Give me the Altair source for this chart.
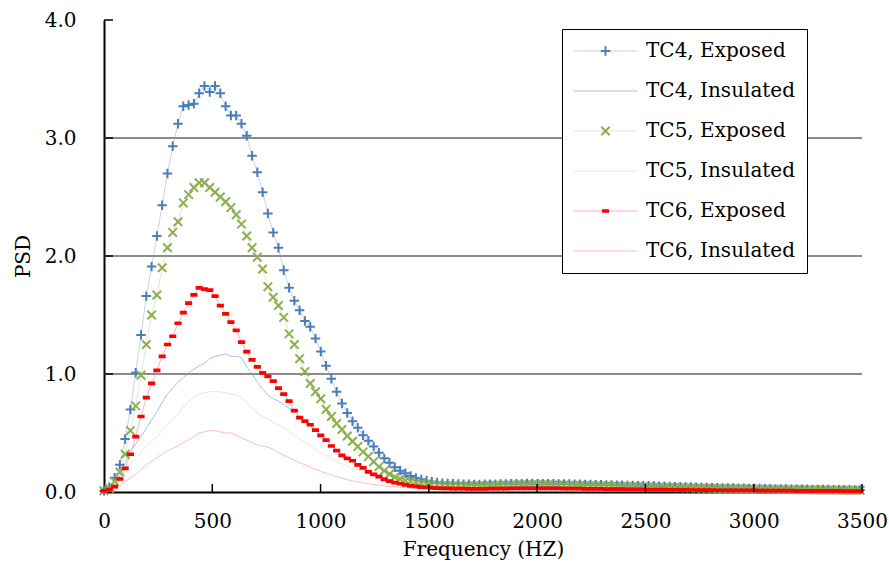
import altair as alt
import pandas as pd

# ---------------- data ----------------
FREQ_STEP = 24.414
N = 144
FREQ = [round(i * FREQ_STEP, 2) for i in range(N)]

SERIES = ["TC4, Exposed", "TC4, Insulated", "TC5, Exposed",
          "TC5, Insulated", "TC6, Exposed", "TC6, Insulated"]

TC4_EXPOSED = [
    0.01, 0.04, 0.12, 0.23, 0.45, 0.70, 1.01, 1.33, 1.66, 1.91,
    2.17, 2.43, 2.70, 2.93, 3.12, 3.27, 3.28, 3.29, 3.38, 3.44,
    3.39, 3.44, 3.38, 3.27, 3.19, 3.19, 3.12, 3.02, 2.85, 2.71,
    2.54, 2.36, 2.20, 2.07, 1.88, 1.73, 1.62, 1.54, 1.45, 1.40,
    1.30, 1.19, 1.07, 0.96, 0.85, 0.75, 0.67, 0.60, 0.545, 0.48,
    0.435, 0.385, 0.333, 0.285, 0.248, 0.21, 0.18, 0.158, 0.135, 0.118,
    0.107, 0.095, 0.087, 0.080, 0.075, 0.072, 0.070, 0.068, 0.066, 0.065,
    0.064, 0.064, 0.065, 0.066, 0.066, 0.067, 0.068, 0.069, 0.070, 0.071,
    0.072, 0.072, 0.071, 0.071, 0.070, 0.069, 0.068, 0.068, 0.067, 0.066,
    0.065, 0.064, 0.063, 0.062, 0.061, 0.060, 0.059, 0.058, 0.057, 0.056,
    0.055, 0.054, 0.053, 0.052, 0.050, 0.049, 0.048, 0.047, 0.045, 0.044,
    0.043, 0.042, 0.040, 0.039, 0.038, 0.037, 0.036, 0.035, 0.034, 0.033,
    0.032, 0.031, 0.030, 0.030, 0.029, 0.028, 0.027, 0.026, 0.026, 0.025,
    0.024, 0.024, 0.023, 0.023, 0.022, 0.022, 0.021, 0.021, 0.020, 0.020,
    0.019, 0.019, 0.018, 0.018,
]

TC4_INSULATED = [
    0.00, 0.02, 0.06, 0.14, 0.25, 0.34, 0.41, 0.47, 0.54, 0.61,
    0.68, 0.76, 0.83, 0.88, 0.93, 0.97, 1.01, 1.04, 1.07, 1.09,
    1.13, 1.15, 1.16, 1.17, 1.15, 1.15, 1.14, 1.06, 1.00, 0.93,
    0.87, 0.82, 0.79, 0.77, 0.74, 0.71, 0.68, 0.64, 0.60, 0.56,
    0.52, 0.48, 0.44, 0.40, 0.36, 0.32, 0.29, 0.26, 0.23, 0.20,
    0.18, 0.16, 0.14, 0.12, 0.105, 0.092, 0.080, 0.070, 0.062, 0.056,
    0.050, 0.046, 0.043, 0.041, 0.039, 0.038, 0.037, 0.037, 0.037, 0.037,
    0.038, 0.038, 0.039, 0.040, 0.041, 0.042, 0.043, 0.044, 0.045, 0.045,
    0.046, 0.046, 0.046, 0.045, 0.045, 0.044, 0.043, 0.042, 0.041, 0.040,
    0.039, 0.038, 0.037, 0.036, 0.035, 0.034, 0.033, 0.032, 0.031, 0.030,
    0.029, 0.028, 0.027, 0.026, 0.026, 0.025, 0.024, 0.023, 0.023, 0.022,
    0.021, 0.021, 0.020, 0.020, 0.019, 0.019, 0.018, 0.018, 0.017, 0.017,
    0.016, 0.016, 0.016, 0.015, 0.015, 0.015, 0.014, 0.014, 0.014, 0.013,
    0.013, 0.013, 0.013, 0.012, 0.012, 0.012, 0.012, 0.011, 0.011, 0.011,
    0.011, 0.010, 0.010, 0.010,
]

TC5_EXPOSED = [
    0.01, 0.03, 0.09, 0.17, 0.32, 0.52, 0.73, 0.99, 1.25, 1.50,
    1.67, 1.90, 2.07, 2.20, 2.29, 2.45, 2.52, 2.58, 2.62, 2.62,
    2.58, 2.54, 2.50, 2.46, 2.41, 2.35, 2.27, 2.17, 2.07, 1.99,
    1.89, 1.74, 1.65, 1.58, 1.48, 1.34, 1.25, 1.13, 1.02, 0.92,
    0.85, 0.79, 0.70, 0.64, 0.58, 0.53, 0.475, 0.43, 0.385, 0.34,
    0.30, 0.257, 0.215, 0.18, 0.153, 0.125, 0.110, 0.095, 0.088, 0.080,
    0.072, 0.066, 0.062, 0.058, 0.056, 0.054, 0.053, 0.052, 0.052, 0.052,
    0.053, 0.053, 0.054, 0.055, 0.056, 0.057, 0.058, 0.059, 0.060, 0.061,
    0.061, 0.062, 0.062, 0.061, 0.061, 0.060, 0.059, 0.058, 0.057, 0.056,
    0.055, 0.054, 0.053, 0.052, 0.051, 0.050, 0.049, 0.048, 0.047, 0.046,
    0.045, 0.044, 0.043, 0.042, 0.041, 0.040, 0.039, 0.038, 0.037, 0.036,
    0.035, 0.034, 0.033, 0.032, 0.031, 0.030, 0.029, 0.028, 0.028, 0.027,
    0.026, 0.025, 0.025, 0.024, 0.023, 0.023, 0.022, 0.021, 0.021, 0.020,
    0.020, 0.019, 0.019, 0.018, 0.018, 0.017, 0.017, 0.016, 0.016, 0.016,
    0.015, 0.015, 0.015, 0.014,
]

TC5_INSULATED = [
    0.00, 0.01, 0.04, 0.11, 0.19, 0.24, 0.29, 0.34, 0.39, 0.43,
    0.47, 0.52, 0.57, 0.61, 0.66, 0.72, 0.77, 0.80, 0.83, 0.84,
    0.85, 0.85, 0.85, 0.84, 0.83, 0.82, 0.80, 0.76, 0.71, 0.67,
    0.64, 0.62, 0.59, 0.57, 0.54, 0.51, 0.48, 0.45, 0.42, 0.39,
    0.36, 0.33, 0.31, 0.28, 0.26, 0.24, 0.22, 0.20, 0.19, 0.17,
    0.155, 0.14, 0.13, 0.115, 0.105, 0.095, 0.085, 0.075, 0.067, 0.060,
    0.055, 0.050, 0.046, 0.043, 0.041, 0.039, 0.038, 0.037, 0.037, 0.037,
    0.037, 0.038, 0.038, 0.039, 0.040, 0.041, 0.042, 0.042, 0.043, 0.043,
    0.044, 0.044, 0.043, 0.043, 0.042, 0.042, 0.041, 0.040, 0.039, 0.038,
    0.037, 0.036, 0.035, 0.034, 0.033, 0.032, 0.031, 0.030, 0.029, 0.028,
    0.027, 0.026, 0.026, 0.025, 0.024, 0.023, 0.023, 0.022, 0.021, 0.021,
    0.020, 0.019, 0.019, 0.018, 0.018, 0.017, 0.017, 0.016, 0.016, 0.015,
    0.015, 0.015, 0.014, 0.014, 0.014, 0.013, 0.013, 0.013, 0.012, 0.012,
    0.012, 0.012, 0.011, 0.011, 0.011, 0.011, 0.010, 0.010, 0.010, 0.010,
    0.010, 0.009, 0.009, 0.009,
]

TC6_EXPOSED = [
    0.01, 0.02, 0.045, 0.11, 0.20, 0.32, 0.47, 0.64, 0.80, 0.92,
    1.03, 1.15, 1.25, 1.32, 1.43, 1.52, 1.60, 1.67, 1.73, 1.72,
    1.71, 1.66, 1.58, 1.51, 1.44, 1.37, 1.27, 1.19, 1.12, 1.06,
    1.01, 0.98, 0.94, 0.88, 0.83, 0.77, 0.69, 0.63, 0.60, 0.57,
    0.525, 0.48, 0.44, 0.39, 0.35, 0.31, 0.285, 0.265, 0.23, 0.205,
    0.17, 0.15, 0.13, 0.107, 0.093, 0.079, 0.070, 0.060, 0.052, 0.047,
    0.042, 0.038, 0.035, 0.033, 0.031, 0.030, 0.029, 0.028, 0.028, 0.027,
    0.027, 0.027, 0.027, 0.028, 0.028, 0.029, 0.029, 0.030, 0.030, 0.031,
    0.031, 0.031, 0.031, 0.031, 0.030, 0.030, 0.030, 0.029, 0.029, 0.028,
    0.028, 0.027, 0.027, 0.026, 0.026, 0.025, 0.025, 0.024, 0.024, 0.023,
    0.023, 0.022, 0.022, 0.021, 0.021, 0.020, 0.020, 0.019, 0.019, 0.018,
    0.018, 0.017, 0.017, 0.016, 0.016, 0.016, 0.015, 0.015, 0.014, 0.014,
    0.014, 0.013, 0.013, 0.013, 0.012, 0.012, 0.012, 0.011, 0.011, 0.011,
    0.011, 0.010, 0.010, 0.010, 0.010, 0.009, 0.009, 0.009, 0.009, 0.009,
    0.008, 0.008, 0.008, 0.008,
]

TC6_INSULATED = [
    0.00, 0.005, 0.02, 0.05, 0.09, 0.12, 0.15, 0.19, 0.23, 0.26,
    0.29, 0.32, 0.35, 0.37, 0.39, 0.42, 0.44, 0.47, 0.50, 0.51,
    0.52, 0.52, 0.51, 0.50, 0.50, 0.48, 0.46, 0.44, 0.42, 0.40,
    0.39, 0.38, 0.36, 0.335, 0.31, 0.29, 0.27, 0.25, 0.23, 0.21,
    0.19, 0.175, 0.16, 0.145, 0.13, 0.115, 0.105, 0.095, 0.085, 0.078,
    0.070, 0.064, 0.058, 0.053, 0.048, 0.044, 0.040, 0.037, 0.034, 0.032,
    0.030, 0.028, 0.026, 0.025, 0.024, 0.023, 0.022, 0.022, 0.021, 0.021,
    0.021, 0.021, 0.021, 0.022, 0.022, 0.022, 0.023, 0.023, 0.023, 0.023,
    0.024, 0.024, 0.024, 0.023, 0.023, 0.023, 0.022, 0.022, 0.022, 0.021,
    0.021, 0.020, 0.020, 0.019, 0.019, 0.018, 0.018, 0.017, 0.017, 0.017,
    0.016, 0.016, 0.015, 0.015, 0.015, 0.014, 0.014, 0.013, 0.013, 0.013,
    0.012, 0.012, 0.012, 0.011, 0.011, 0.011, 0.010, 0.010, 0.010, 0.010,
    0.009, 0.009, 0.009, 0.009, 0.008, 0.008, 0.008, 0.008, 0.008, 0.007,
    0.007, 0.007, 0.007, 0.007, 0.007, 0.006, 0.006, 0.006, 0.006, 0.006,
    0.006, 0.006, 0.005, 0.005,
]

X_TICKS = [0, 500, 1000, 1500, 2000, 2500, 3000, 3500]
Y_TICKS = [0, 1, 2, 3, 4]
GRID_Y = [1, 2, 3]

VALUES = [TC4_EXPOSED, TC4_INSULATED, TC5_EXPOSED,
          TC5_INSULATED, TC6_EXPOSED, TC6_INSULATED]
MARKER_KEYS = ["m1", "m2", "m3", "m4", "m5", "m6"]
EXPOSED = {"TC4, Exposed", "TC5, Exposed", "TC6, Exposed"}

rows = []
for name, key, vals in zip(SERIES, MARKER_KEYS, VALUES):
    for f, v in zip(FREQ, vals):
        rows.append({"freq": f, "psd": v, "series": name, "mk": key})
df = pd.DataFrame(rows)
df_points = df[df["series"].isin(EXPOSED)].copy()

# ---------------- styling ----------------
W, H = 758, 472
FONT = "DejaVu Serif"
FS = 20
LINE_COLORS = ["#c3d4ea", "#a9c2e6", "#e2e9d2", "#efe6cf", "#ffb3b3", "#ffbcbc"]
MARK_COLORS = ["#4a7ebb", "rgba(0,0,0,0)", "#8db04f",
               "rgba(0,0,0,0)", "#ff0000", "rgba(0,0,0,0)"]
PLUS = "M-1,0L1,0M0,-1L0,1"
CROSS = "M-0.9,-0.9L0.9,0.9M-0.9,0.9L0.9,-0.9"
DASH = "M-0.75,-0.18L0.75,-0.18M-0.75,0.18L0.75,0.18"
MARK_SHAPES = [PLUS, PLUS, CROSS, CROSS, DASH, DASH]

LEG_X, LEG_Y = 458, 9
common_leg = dict(title=None, orient="none", legendX=LEG_X, legendY=LEG_Y,
                  direction="vertical", labelFont=FONT, labelFontSize=FS,
                  labelOffset=8, labelLimit=0, clipHeight=22, rowPadding=18,
                  padding=11)

line_legend = alt.Legend(symbolType="stroke", symbolSize=4096,
                         symbolStrokeWidth=1, labelColor="black",
                         strokeColor="black", fillColor="white", **common_leg)
mark_legend = alt.Legend(symbolSize=90, symbolStrokeWidth=2,
                         symbolOffset=22.5, labelExpr="' '",
                         labelOpacity=0, **common_leg)

x_enc = alt.X("freq:Q",
              scale=alt.Scale(domain=[0, 3500], nice=False, zero=False),
              axis=alt.Axis(values=X_TICKS, format="d", title="Frequency (HZ)",
                            grid=False, ticks=False, domainColor="black",
                            domainWidth=2, labelFont=FONT, labelFontSize=FS,
                            labelColor="black", labelPadding=19,
                            labelFlush=False, labelOverlap=False,
                            titleFont=FONT, titleFontSize=FS,
                            titleFontWeight="normal", titleColor="black",
                            titleX=W / 2, titleY=57, titleBaseline="middle",
                            titleAlign="center", zindex=0))
y_enc = alt.Y("psd:Q",
              scale=alt.Scale(domain=[0, 4], nice=False, zero=False),
              axis=alt.Axis(values=Y_TICKS, format=".1f", title="PSD",
                            grid=False, ticks=False, domainColor="black",
                            domainWidth=2, labelFont=FONT, labelFontSize=FS,
                            labelColor="black", labelPadding=28,
                            titleFont=FONT, titleFontSize=FS,
                            titleFontWeight="normal", titleColor="black",
                            titleX=-81, titleY=H / 2, titleAngle=270,
                            titleBaseline="middle", titleAlign="center",
                            zindex=0))

lines = alt.Chart(df).mark_line(strokeWidth=1).encode(
    x=x_enc, y=y_enc,
    stroke=alt.Stroke("series:N",
                      scale=alt.Scale(domain=SERIES, range=LINE_COLORS),
                      legend=line_legend),
)

points = alt.Chart(df_points).mark_point(filled=False, size=90,
                                         strokeWidth=2, opacity=1).encode(
    x=alt.X("freq:Q"), y=alt.Y("psd:Q"),
    color=alt.Color("mk:N",
                    scale=alt.Scale(domain=MARKER_KEYS, range=MARK_COLORS),
                    legend=mark_legend),
    shape=alt.Shape("mk:N",
                    scale=alt.Scale(domain=MARKER_KEYS, range=MARK_SHAPES),
                    legend=mark_legend),
)

grid = alt.Chart(pd.DataFrame({"psd": GRID_Y})).mark_rule(
    color="#8c8c8c", strokeWidth=2).encode(
    y=alt.Y("psd:Q"), x=alt.value(0), x2=alt.value(W))

ytick = alt.Chart(pd.DataFrame({"psd": Y_TICKS[1:]})).mark_rule(
    color="black", strokeWidth=1.5).encode(
    y=alt.Y("psd:Q"), x=alt.value(0), x2=alt.value(9))

xtick = alt.Chart(pd.DataFrame({"freq": X_TICKS[1:]})).mark_rule(
    color="black", strokeWidth=1.5).encode(
    x=alt.X("freq:Q"), y=alt.value(H), y2=alt.value(H - 8))

chart = alt.layer(lines, grid, points, ytick, xtick).properties(
    width=W, height=H,
    padding={"left": 104, "top": 20, "right": 27, "bottom": 77},
    autosize=alt.AutoSizeParams(type="none"),
    background="white",
).configure_view(stroke=None)

chart.save("out.html", embed_options={"renderer": "svg", "actions": False})
